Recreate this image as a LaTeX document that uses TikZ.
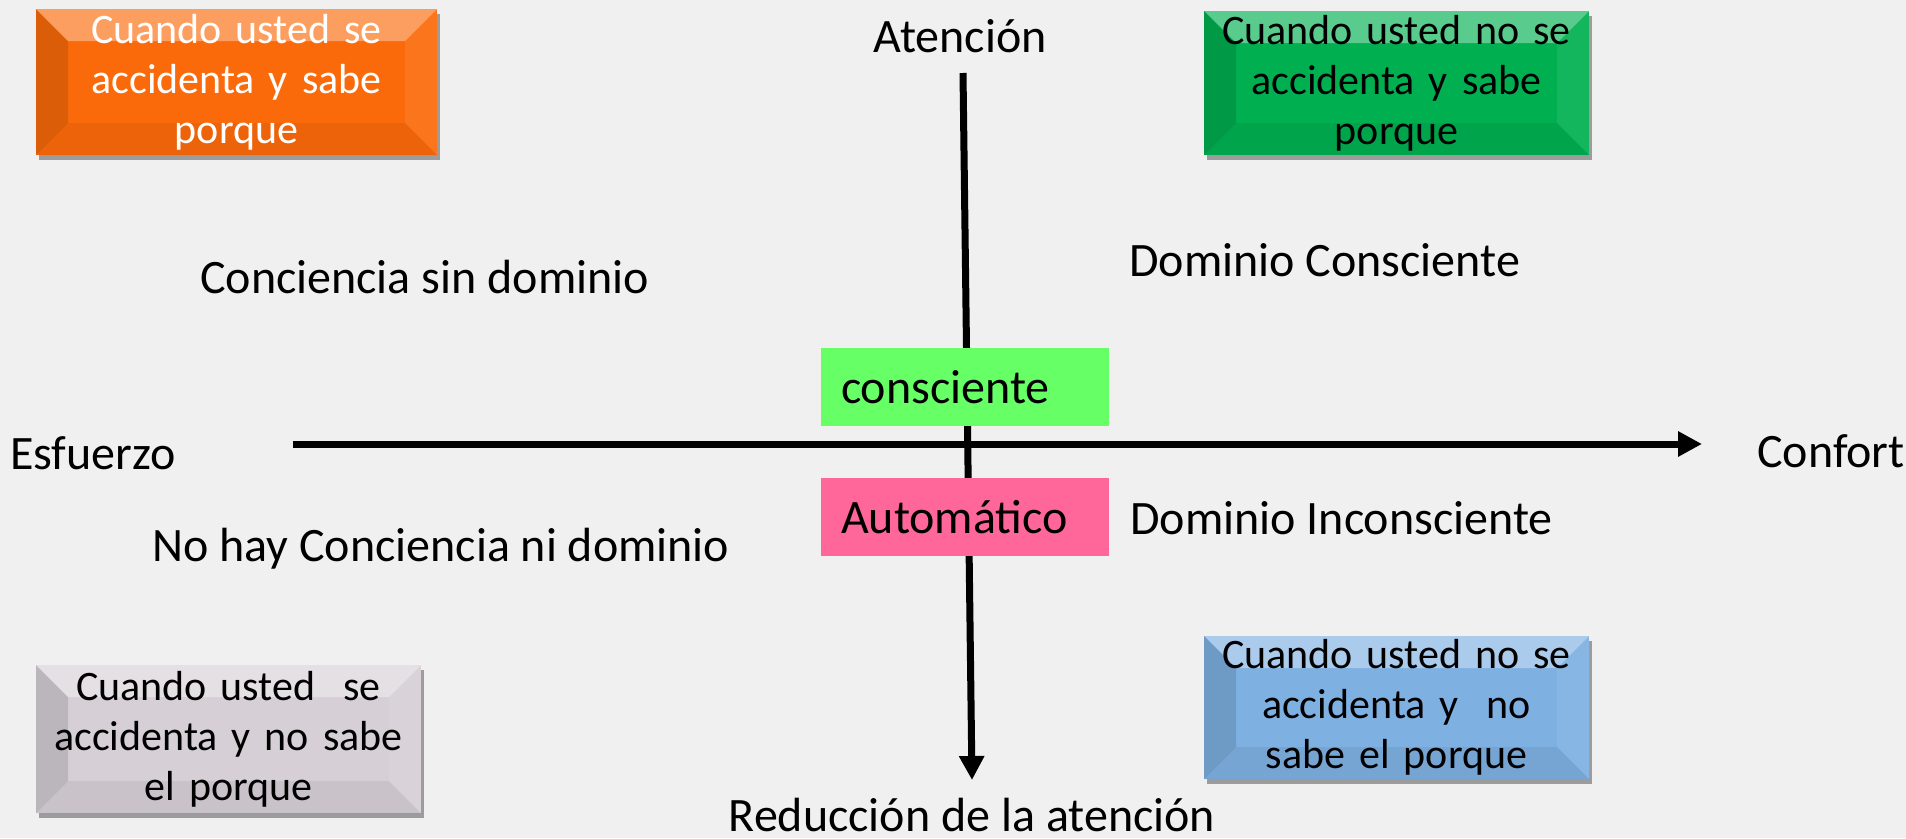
\documentclass[tikz,border=0pt]{standalone}
\usepackage{fontspec}
\setmainfont{Carlito}
\usetikzlibrary{arrows.meta,shadows}
\definecolor{fondo}{HTML}{F0F0F0}
\definecolor{naranja}{HTML}{FB6A0A}
\definecolor{verde}{HTML}{00B050}
\definecolor{gris}{HTML}{D6D0D6}
\definecolor{azul}{HTML}{7EB0E2}
\definecolor{verdeclaro}{HTML}{66FF66}
\definecolor{rosa}{HTML}{FF6699}
\tikzset{
  lbl/.style={font=\fontsize{48}{56}\selectfont, inner sep=0pt},
  bevelbox/.style={fill=#1, inner sep=0pt, align=center, text width=380pt,
    font=\fontsize{42}{50}\selectfont,
    drop shadow={shadow xshift=3pt, shadow yshift=-5pt, opacity=.35, fill=black},
    path picture={
      \fill[white,opacity=.35] (path picture bounding box.north west) -- (path picture bounding box.north east)
        -- ([shift={(-32pt,-32pt)}]path picture bounding box.north east) -- ([shift={(32pt,-32pt)}]path picture bounding box.north west) -- cycle;
      \fill[black,opacity=.12] (path picture bounding box.north west) -- (path picture bounding box.south west)
        -- ([shift={(32pt,32pt)}]path picture bounding box.south west) -- ([shift={(32pt,-32pt)}]path picture bounding box.north west) -- cycle;
      \fill[black,opacity=.06] (path picture bounding box.south west) -- (path picture bounding box.south east)
        -- ([shift={(-32pt,32pt)}]path picture bounding box.south east) -- ([shift={(32pt,32pt)}]path picture bounding box.south west) -- cycle;
      \fill[white,opacity=.08] (path picture bounding box.north east) -- (path picture bounding box.south east)
        -- ([shift={(-32pt,32pt)}]path picture bounding box.south east) -- ([shift={(-32pt,-32pt)}]path picture bounding box.north east) -- cycle;
    }},
  tag/.style={fill=#1, minimum width=288pt, minimum height=78pt, inner sep=0pt,
    text width=248pt, align=left, font=\fontsize{48}{56}\selectfont},
  eje/.style={line width=7pt, -{Triangle[length=24pt,width=24pt]}}
}
\begin{document}
\begin{tikzpicture}[x=1pt,y=-1pt]
  \fill[fondo] (0,0) rectangle (1906,838);
  \useasboundingbox (0,0) rectangle (1906,838);
  \coordinate (hizq) at (293,444);
  \coordinate (hder) at (1702,444);
  \coordinate (varr) at (963,73);
  \coordinate (vabj) at (972,780);
  \draw[eje] (hizq) -- (hder);
  \draw[eje] (varr) -- (vabj);

  \node[lbl] (aten) at (960,36) {Atención};
  \node[lbl] (red) at (972,815) {Reducción de la atención};
  \node[lbl,anchor=west] (esf) at (10,453) {Esfuerzo};
  \node[lbl,anchor=west] (conf) at (1757,451) {Confort};
  \node[lbl,anchor=west] (csd) at (200,277) {Conciencia sin dominio};
  \node[lbl,anchor=west] (dc) at (1129,260) {Dominio Consciente};
  \node[lbl,anchor=west] (di) at (1130,518) {Dominio Inconsciente};
  \node[lbl,anchor=west] (nhc) at (152,549) {No hay Conciencia ni dominio};

  \node[tag=verdeclaro] (cons) at (965,387) {consciente};
  \node[tag=rosa] (auto) at (965,517) {Automático};

  \node[bevelbox=naranja, text=white, minimum width=401pt, minimum height=146pt] (q1) at (236.5,82)
    {Cuando usted se\\ accidenta y sabe\\ porque};
  \node[bevelbox=verde, minimum width=385pt, minimum height=144pt] (q2) at (1396.5,83)
    {Cuando usted no se\\ accidenta y sabe\\ porque};
  \node[bevelbox=gris, minimum width=385pt, minimum height=148pt] (q3) at (228.5,739)
    {Cuando usted\ \ se\\ accidenta y no sabe\\ el porque};
  \node[bevelbox=azul, minimum width=385pt, minimum height=143pt] (q4) at (1396.5,707.5)
    {Cuando usted no se\\ accidenta y\ \ no\\ sabe el porque};
\end{tikzpicture}
\end{document}
